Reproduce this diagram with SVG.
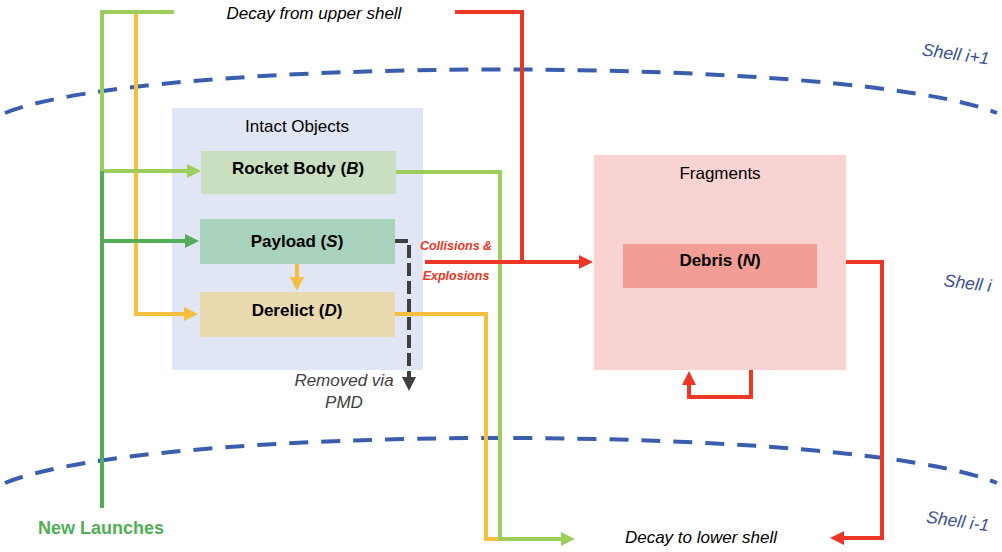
<svg xmlns="http://www.w3.org/2000/svg" width="1002" height="552" viewBox="0 0 1002 552">
<defs>
<style>
.shell{fill:none;stroke:#3A5DAE;stroke-width:4;stroke-dasharray:19 13}
.lbl{font-family:"Liberation Sans",Arial,sans-serif;font-size:17px;fill:#000;text-anchor:middle}
.b{font-weight:bold}
.it{font-style:italic}
.sh{font-family:"Liberation Sans",Arial,sans-serif;font-size:17.5px;font-style:italic;fill:#3B4F94;text-anchor:middle}
.c{fill:none;stroke-width:4;stroke-linejoin:miter}
.lg{stroke:#9DCE5C}
.dg{stroke:#52AE56}
.or{stroke:#F6BE3F}
.rd{stroke:#EC3626}
.gy{stroke:#3F3F3F;stroke-dasharray:13 5}
</style>
<marker id="aLg" markerUnits="userSpaceOnUse" markerWidth="14" markerHeight="14" refX="8" refY="7" orient="auto"><path d="M0,0 L14,7 L0,14 z" fill="#9DCE5C"/></marker>
<marker id="aDg" markerUnits="userSpaceOnUse" markerWidth="14" markerHeight="14" refX="8" refY="7" orient="auto"><path d="M0,0 L14,7 L0,14 z" fill="#52AE56"/></marker>
<marker id="aOr" markerUnits="userSpaceOnUse" markerWidth="14" markerHeight="14" refX="8" refY="7" orient="auto"><path d="M0,0 L14,7 L0,14 z" fill="#F6BE3F"/></marker>
<marker id="aRd" markerUnits="userSpaceOnUse" markerWidth="14" markerHeight="14" refX="8" refY="7" orient="auto"><path d="M0,0 L14,7 L0,14 z" fill="#EC3626"/></marker>
<marker id="aGy" markerUnits="userSpaceOnUse" markerWidth="14" markerHeight="14" refX="8" refY="7" orient="auto"><path d="M0,0 L14,7 L0,14 z" fill="#3F3F3F"/></marker>
</defs>
<rect width="1002" height="552" fill="#fff"/>

<g id="shells">
<path class="shell" d="M5,113 C150,55 852,55 997,113"/>
<path class="shell" d="M5,483 C150,423 852,423 997,483"/>
<text class="sh" transform="translate(955,60) rotate(8)">Shell i+1</text>
<text class="sh" transform="translate(967,289) rotate(7)">Shell i</text>
<text class="sh" transform="translate(957,527) rotate(8)">Shell i-1</text>
</g>

<g id="intact">
<rect x="172" y="108" width="251" height="262" fill="#E0E6F4"/>
<text class="lbl" x="297" y="132">Intact Objects</text>
</g>
<g id="rocket">
<rect x="201" y="151" width="195" height="43" fill="#C9DFBF"/>
<text class="lbl b" x="298" y="174">Rocket Body (<tspan class="it">B</tspan>)</text>
</g>
<g id="payload">
<rect x="200" y="219" width="195" height="45" fill="#A8D2BC"/>
<text class="lbl b" x="297" y="247">Payload (<tspan class="it">S</tspan>)</text>
</g>
<g id="derelict">
<rect x="200" y="292" width="195" height="45" fill="#E8D9AE"/>
<text class="lbl b" x="297" y="316">Derelict (<tspan class="it">D</tspan>)</text>
</g>
<g id="fragments">
<rect x="594" y="155" width="252" height="215" fill="#F8D3D2"/>
<text class="lbl" x="720" y="179">Fragments</text>
</g>
<g id="debris">
<rect x="623" y="244" width="194" height="44" fill="#F39D97"/>
<text class="lbl b" x="720" y="266">Debris (<tspan class="it">N</tspan>)</text>
</g>

<g id="connectors">
<path class="c or" d="M136,13 V314 H192" marker-end="url(#aOr)"/>
<path class="c lg" d="M174,12 H102 V171 H195" marker-end="url(#aLg)"/>
<path class="c dg" d="M102,171 V508"/>
<path class="c dg" d="M102,241 H193" marker-end="url(#aDg)"/>
<path class="c or" d="M297,264 V285" marker-end="url(#aOr)"/>
<path class="c or" d="M395,314 H486 V539 H500"/>
<path class="c lg" d="M396,172 H500 V539 H569" marker-end="url(#aLg)"/>
<path class="c gy" d="M395,241 H409 V385" marker-end="url(#aGy)"/>
<path class="c rd" d="M455,12 H522 V262"/>
<path class="c rd" d="M425,262 H587" marker-end="url(#aRd)"/>
<path class="c rd" d="M846,262 H882 V538 H836" marker-end="url(#aRd)"/>
<path class="c rd" d="M751,370 V397 H689 V377" marker-end="url(#aRd)"/>
</g>

<g id="labels">
<text class="lbl it" x="314" y="19">Decay from upper shell</text>
<text class="lbl it" x="701" y="543">Decay to lower shell</text>
<text class="lbl b" x="101" y="534" style="fill:#52AE56;font-size:18px">New Launches</text>
<text class="lbl it" x="344" y="386" style="fill:#404040">Removed via</text>
<text class="lbl it" x="344" y="408" style="fill:#404040">PMD</text>
<text class="lbl b it" x="456" y="250" style="fill:#EC3626;font-size:12.5px">Collisions &amp;</text>
<text class="lbl b it" x="456" y="280" style="fill:#EC3626;font-size:12.5px">Explosions</text>
</g>
</svg>
